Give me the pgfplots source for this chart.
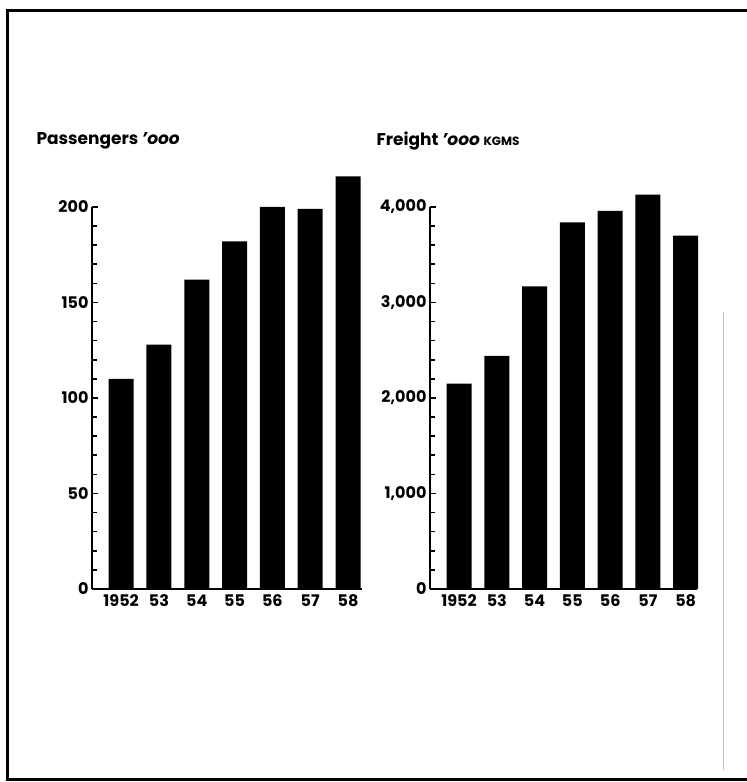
\documentclass[border=0pt]{standalone}
\usepackage{fontspec}
\setmainfont{Poppins}
\usepackage{pgfplots}
\pgfplotsset{compat=1.18}

\pgfplotsset{oldbar/.style={
    scale only axis,
    axis x line=bottom, axis y line=left,
    axis line style={-, line width=2.4pt},
    ybar, bar width=25pt, clip=false,
    xmin=-0.77, ymin=0,
    xtick={0,...,6}, xticklabels={1952,53,54,55,56,57,58},
    major x tick style={draw=none},
    tick align=inside, major tick length=6pt, minor tick length=5pt,
    every tick/.style={black, line width=1.6pt},
    ticklabel style={font=\bfseries\fontsize{16}{16}\selectfont},
    xticklabel style={yshift=-2pt},
    /pgf/number format/assume math mode=true,
    /pgf/number format/1000 sep={,},
    scaled y ticks=false,
    minor y tick num=4,
    anchor=south west,
    height=382pt,
}}

\begin{document}
\begin{tikzpicture}[x=1pt,y=1pt]
\path[use as bounding box] (0,0) rectangle (747,782);
% page frame, open on the right
\draw[line width=3pt] (747,771) -- (7,771) -- (7,2) -- (747,2);
\draw[black!25, line width=0.6pt] (723,470) -- (723,12);

% passengers
\begin{axis}[oldbar, at={(92pt,193pt)}, width=270pt,
    xmax=6.37, ymax=200, ytick distance=50]
\addplot[fill=black, draw=none] coordinates {
    (0,110) (1,128) (2,162) (3,182) (4,200) (5,199) (6,216)};
\end{axis}
\node[anchor=west, font=\bfseries\fontsize{17}{17}\selectfont] at (33,641)
    {Passengers \textit{'ooo}};

% freight
\begin{axis}[oldbar, at={(430pt,193pt)}, width=267pt,
    xmax=6.3, ymax=4000, ytick distance=1000]
\addplot[fill=black, draw=none] coordinates {
    (0,2150) (1,2440) (2,3170) (3,3840) (4,3960) (5,4130) (6,3700)};
\end{axis}
\node[anchor=west, font=\bfseries\fontsize{17}{17}\selectfont] at (373,641)
    {Freight \textit{'ooo} {\fontsize{12}{12}\selectfont KGMS}};
\end{tikzpicture}
\end{document}
